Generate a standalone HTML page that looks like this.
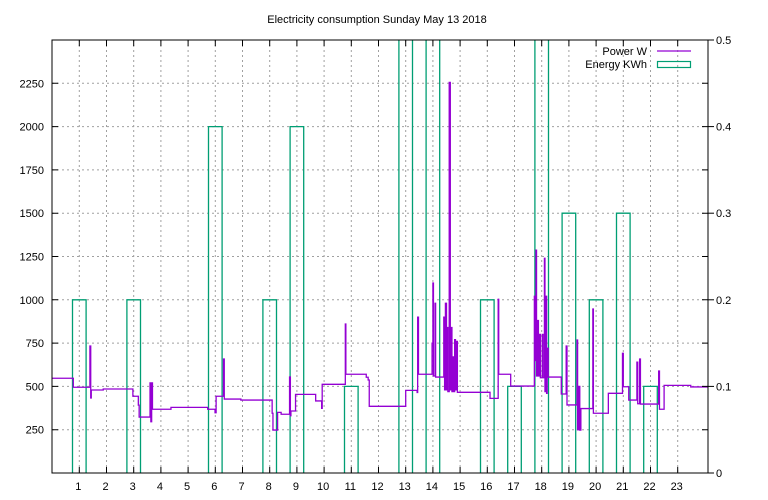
<!DOCTYPE html>
<html><head><meta charset="utf-8"><style>
body{margin:0;background:#fff}
svg{display:block;font-family:"Liberation Sans",sans-serif;font-size:11px}
</style></head><body>
<svg id="c" width="768" height="500">
<defs><clipPath id="clip"><rect x="52" y="40" width="656" height="433"/></clipPath></defs>
<text x="377" y="23" text-anchor="middle">Electricity consumption Sunday May 13 2018</text>
<g id="grid"></g>
<g id="energy" clip-path="url(#clip)"></g>
<g id="power" clip-path="url(#clip)"></g>
<rect x="52" y="40" width="656" height="433" fill="none" stroke="#000" stroke-width="1"/>
<g id="axes"></g>
<g>
<text x="647" y="55" text-anchor="end">Power W</text>
<line x1="657" y1="51" x2="691" y2="51" stroke="#9400d3" stroke-width="1.2"/>
<text x="647" y="68" text-anchor="end">Energy KWh</text>
<rect x="657.5" y="61.5" width="33" height="6" fill="none" stroke="#009e73" stroke-width="1.2"/>
</g>
</svg>
<script>
const xTicks=[1,2,3,4,5,6,7,8,9,10,11,12,13,14,15,16,17,18,19,20,21,22,23];
const yTicks=[250,500,750,1000,1250,1500,1750,2000,2250];
const y2Ticks=[0,0.1,0.2,0.3,0.4,0.5];
const y2Labels=["0","0.1","0.2","0.3","0.4","0.5"];
const energyHours=[0,1,2,3,4,5,6,7,8,9,10,11,12,13,14,15,16,17,18,19,20,21,22,23];
const energyKWh=[0,0.2,0,0.2,0,0,0.4,0,0.2,0.4,0,0.1,0,0.6,0.6,0,0.2,0.1,0.6,0.3,0.2,0.3,0.1,0];
const powerT=[0,0.78,1.39,1.42,1.44,1.88,2.97,3.17,3.2,3.6,3.63,3.66,3.69,4.37,5.72,5.99,6.03,6.3,6.33,6.94,8.09,8.12,8.29,8.42,8.73,8.76,8.78,8.95,9.69,9.91,9.93,10.78,10.8,11.55,11.62,11.66,13.0,13.42,13.44,13.47,13.97,14.0,14.02,14.08,14.1,14.4,14.43,14.46,14.5,14.52,14.55,14.6,14.64,14.68,14.7,14.74,14.77,14.8,14.83,14.86,14.9,16.1,16.4,16.42,16.86,17.73,17.76,17.79,17.81,17.85,17.88,17.92,17.95,18.02,18.05,18.1,18.12,18.15,18.18,18.2,18.24,18.72,18.9,18.93,19.3,19.32,19.36,19.4,19.44,19.88,19.9,20.45,20.97,21.0,21.2,21.5,21.53,21.6,21.63,22.3,22.33,22.5,23.48,24.2];
const powerW=[547,495,733,433,479,485,443,392,323,520,296,520,368,379,368,348,443,658,427,421,345,248,350,339,554,331,358,454,416,373,512,860,570,553,537,385,477,465,900,570,750,1097,560,980,554,900,480,980,480,840,470,2255,480,840,470,670,470,770,480,760,466,431,1003,570,502,1020,650,1287,560,880,560,800,550,800,550,1240,470,1020,460,720,554,456,733,393,768,250,500,248,372,947,345,460,691,498,421,640,400,658,398,589,368,506,497,497];
const NS="http://www.w3.org/2000/svg";
const X=h=>52.1+h*27.2, Y=w=>473-w*433/2500, Y2=e=>473-e*433/0.5;
function mk(tag,attrs,parent,txt){const e=document.createElementNS(NS,tag);for(const k in attrs)e.setAttribute(k,attrs[k]);if(txt!==undefined)e.textContent=txt;parent.appendChild(e);return e;}
const grid=document.getElementById('grid'),axes=document.getElementById('axes');
xTicks.forEach(t=>{const x=X(t);
 const g=mk('line',{x1:x,y1:40,x2:x,y2:473,stroke:'#a0a0a0','stroke-dasharray':'2,3'},grid);
 
 const a=mk('path',{d:`M${x},473v-6M${x},40v6`,stroke:'#000'},axes);
 
 const l=mk('text',{x:x-1,y:490,'text-anchor':'middle'},axes,String(t));
 });
yTicks.forEach(t=>{const y=Y(t);
 const g=mk('line',{x1:52,y1:y,x2:708,y2:y,stroke:'#a0a0a0','stroke-dasharray':'2,3'},grid);
 
 const a=mk('path',{d:`M52,${y}h6M708,${y}h-6`,stroke:'#000'},axes);
 
 const l=mk('text',{x:44,y:y+4,'text-anchor':'end'},axes,String(t));
 });
y2Ticks.forEach((t,i)=>{const y=Y2(t);
 const a=mk('path',{d:`M708,${y}h6`,stroke:'#000'},axes);
 
 const l=mk('text',{x:716,y:y+4},axes,y2Labels[i]);
 });
const eg=document.getElementById('energy');
energyHours.forEach((h,i)=>{const v=energyKWh[i];if(v<=0)return;
 const x0=X(h-0.25),x1=X(h+0.25),y=Y2(v);
 const b=mk('path',{d:`M${x0},473V${y}H${x1}V473`,fill:'none',stroke:'#009e73','stroke-width':1.3},eg);
 });
let d='';
for(let i=0;i<powerT.length;i++){const x=X(powerT[i]),y=Y(powerW[i]);
 if(i===0)d+=`M${x},${y}`;else d+=`V${y}`;
 if(i<powerT.length-1)d+=`H${X(powerT[i+1])}`;}
const p=mk('path',{d:d,fill:'none',stroke:'#9400d3','stroke-width':1.3},document.getElementById('power'));


</script>
</body></html>
